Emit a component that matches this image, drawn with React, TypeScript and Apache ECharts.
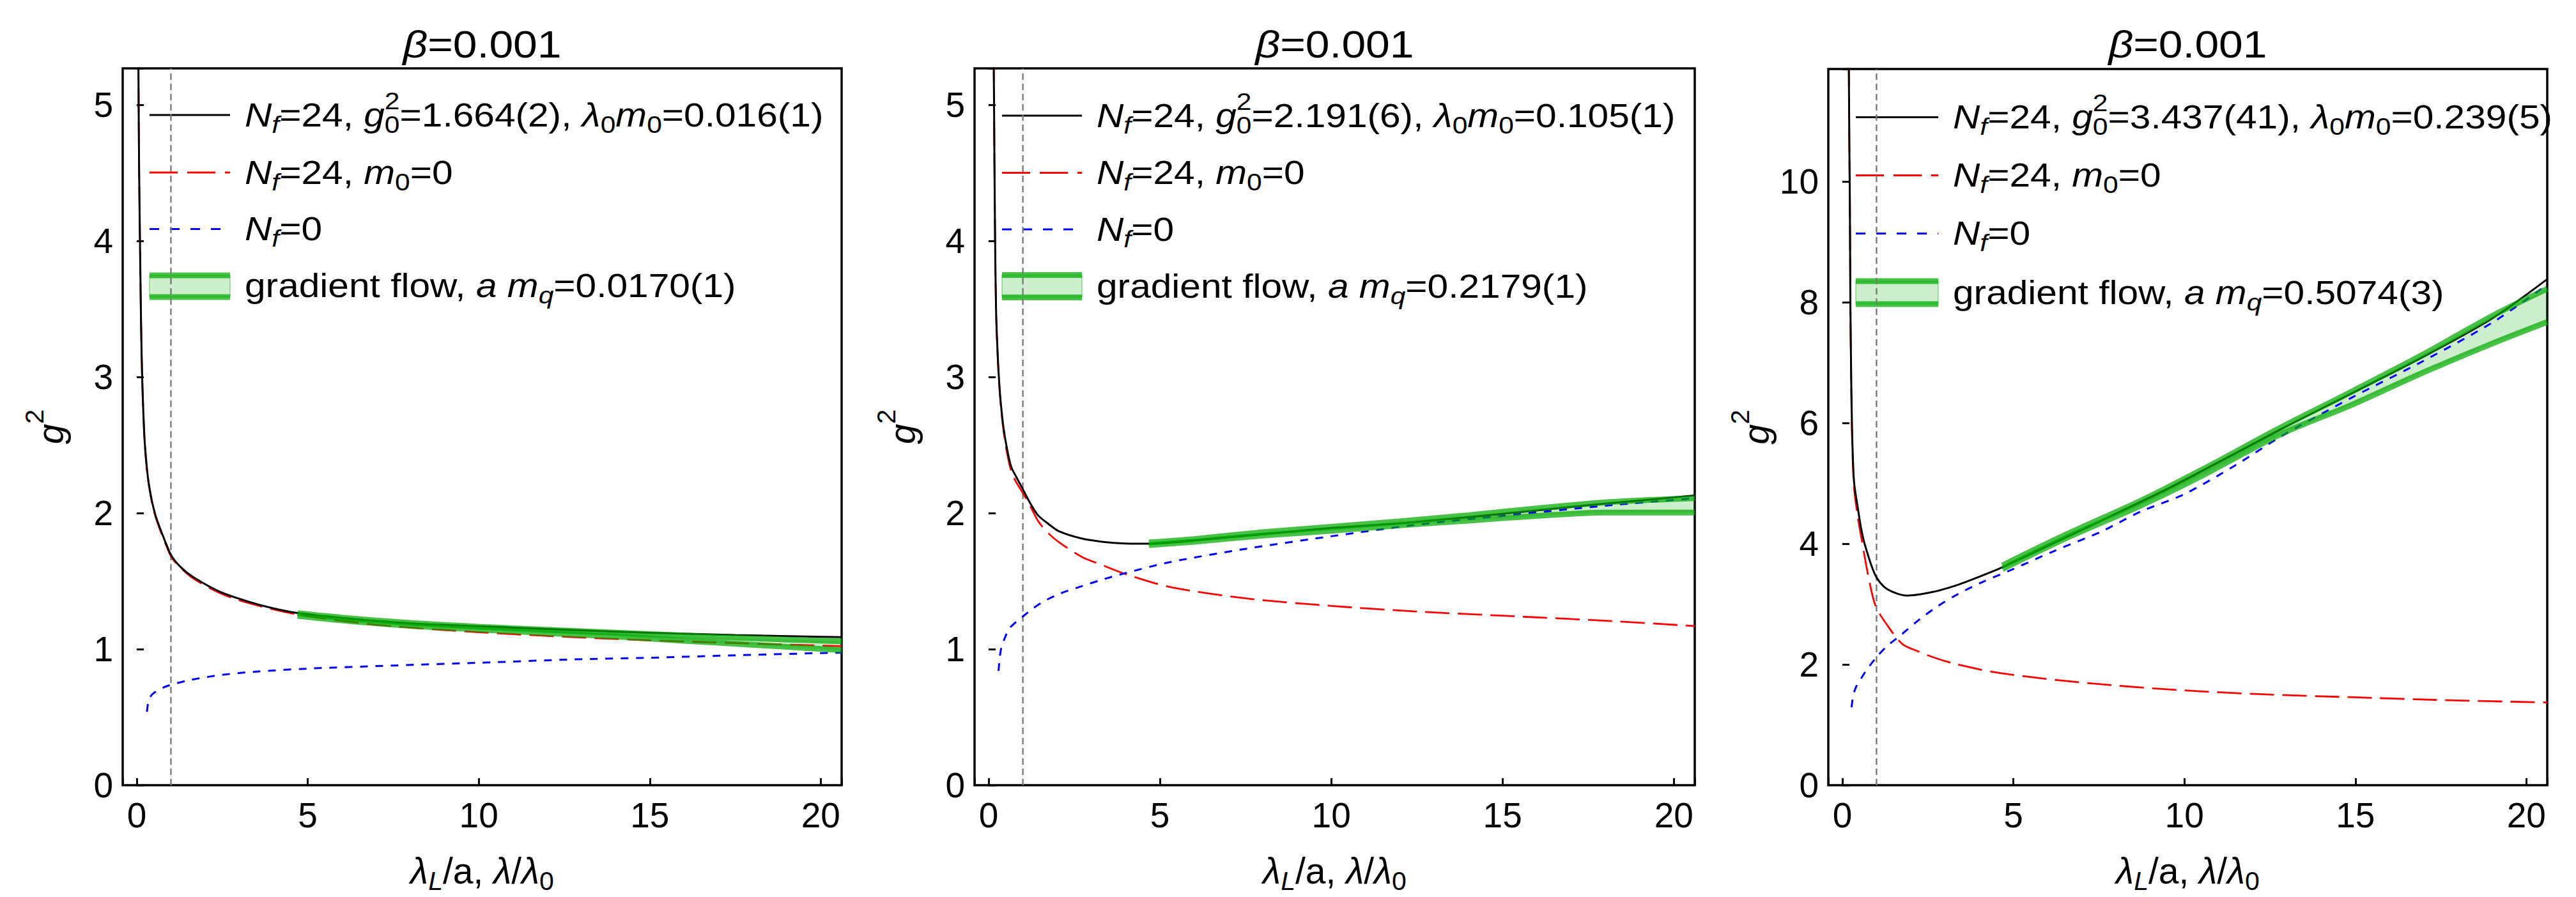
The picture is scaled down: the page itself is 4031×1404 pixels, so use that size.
import React, { useEffect, useRef } from 'react';
import * as echarts from 'echarts';

const FONT = "'Liberation Sans', Arial, Helvetica, sans-serif";

// ---------------- axes & labels ----------------
const xMin = -0.41;
const xMax = 20.61;
const yMaxes = [5.27, 5.27, 11.86];
const xTickStep = 5;
const yTickSteps = [1, 1, 2];
const refLineX = 1; // lambda = lambda_0
const betaValue = '0.001';
const nfValue = 24;
const g0sq = ['1.664(2)', '2.191(6)', '3.437(41)'];
const lambda0m0 = ['0.016(1)', '0.105(1)', '0.239(5)'];
const amq = ['0.0170(1)', '0.2179(1)', '0.5074(3)'];

// ---------------- panel 1 ----------------
const p1Black: [number, number][] = [
  [0.045, 5.6], [0.05, 5.27], [0.07, 4.52], [0.1, 3.9], [0.13, 3.35], [0.16, 2.99], [0.2, 2.7],
  [0.24, 2.5], [0.34, 2.24], [0.53, 2.0], [0.85, 1.78], [1.03, 1.68], [1.3, 1.6], [1.65, 1.53],
  [2.45, 1.42], [3.26, 1.35], [4.0, 1.3], [4.7, 1.266], [6, 1.23], [8, 1.19], [10, 1.168],
  [12.8, 1.14], [15, 1.12], [17.5, 1.104], [20.61, 1.088],
];
const p1Red: [number, number][] = [
  [0.045, 5.6], [0.05, 5.27], [0.07, 4.52], [0.1, 3.9], [0.13, 3.35], [0.16, 2.99], [0.2, 2.7],
  [0.24, 2.49], [0.34, 2.23], [0.53, 1.99], [0.85, 1.77], [1.03, 1.67], [1.3, 1.595], [1.65, 1.52],
  [2.45, 1.41], [3.26, 1.34], [4.7, 1.255], [7, 1.18], [10, 1.125], [12.8, 1.088], [15, 1.065],
  [17.5, 1.045], [20.61, 1.022],
];
const p1Blue: [number, number][] = [
  [0.3, 0.54], [0.33, 0.6], [0.38, 0.64], [0.45, 0.667], [0.6, 0.695], [0.8, 0.72], [1.03, 0.74],
  [1.6, 0.775], [2.45, 0.81], [3.5, 0.835], [5.0, 0.857], [7.5, 0.88], [10, 0.9], [12.8, 0.925],
  [15, 0.937], [17.5, 0.955], [20.61, 0.975],
];
const p1BandX = [4.7, 6, 8, 10, 12, 14, 16, 18, 20.61];
const p1BandUpper = [1.265, 1.232, 1.193, 1.165, 1.143, 1.122, 1.1, 1.08, 1.058];
const p1BandLower = [1.245, 1.212, 1.172, 1.145, 1.118, 1.093, 1.062, 1.032, 0.993];

// ---------------- panel 2 ----------------
const p2Black: [number, number][] = [
  [0.13, 5.6], [0.15, 5.31], [0.17, 4.6], [0.19, 4.01], [0.22, 3.47], [0.26, 3.2], [0.3, 3.0],
  [0.36, 2.8], [0.44, 2.62], [0.54, 2.47], [0.66, 2.34], [0.8, 2.27], [0.99, 2.18], [1.2, 2.08],
  [1.44, 1.985], [1.75, 1.92], [2.06, 1.866], [2.69, 1.815], [3.31, 1.79], [4.0, 1.777],
  [4.67, 1.775], [6, 1.8], [8, 1.845], [10, 1.89], [12, 1.925], [14, 1.97], [16, 2.02], [18, 2.07],
  [20.61, 2.13],
];
const p2Red: [number, number][] = [
  [0.13, 5.6], [0.15, 5.31], [0.17, 4.6], [0.19, 4.0], [0.22, 3.46], [0.26, 3.18], [0.3, 2.98],
  [0.36, 2.78], [0.44, 2.6], [0.54, 2.44], [0.66, 2.31], [0.8, 2.23], [0.97, 2.16], [1.2, 2.06],
  [1.45, 1.94], [1.75, 1.85], [2.09, 1.78], [2.74, 1.676], [3.3, 1.62], [4.02, 1.55], [5.3, 1.457],
  [7.56, 1.372], [10, 1.318], [12.4, 1.278], [15, 1.246], [18, 1.209], [20.61, 1.17],
];
const p2Blue: [number, number][] = [
  [0.29, 0.84], [0.33, 0.95], [0.38, 1.02], [0.45, 1.068], [0.6, 1.15], [0.8, 1.2], [0.98, 1.236],
  [1.3, 1.3], [1.6, 1.35], [2.1, 1.41], [2.74, 1.465], [3.3, 1.51], [4.0, 1.56], [5.3, 1.64],
  [7.56, 1.74], [10, 1.83], [12.5, 1.915], [15, 1.98], [18, 2.055], [20.61, 2.11],
];
const p2BandX = [4.68, 6, 8, 10, 12, 14, 16, 18, 20.61];
const p2BandUpper = [1.785, 1.81, 1.86, 1.9, 1.94, 1.985, 2.035, 2.08, 2.11];
const p2BandLower = [1.765, 1.79, 1.835, 1.87, 1.91, 1.945, 1.98, 2.005, 2.005];

// ---------------- panel 3 ----------------
const p3Black: [number, number][] = [
  [0.18, 12.5], [0.19, 11.9], [0.205, 10.6], [0.22, 9.64], [0.235, 8.0], [0.25, 7.2], [0.28, 6.0],
  [0.34, 5.04], [0.45, 4.6], [0.55, 4.25], [0.67, 3.96], [0.97, 3.47], [1.3, 3.25], [1.9, 3.14],
  [2.65, 3.2], [3.28, 3.3], [3.9, 3.43], [4.68, 3.61], [6, 3.96], [8.72, 4.69], [10, 5.05],
  [12.84, 5.9], [14.9, 6.49], [16.97, 7.09], [19.03, 7.74], [20.61, 8.38],
];
const p3Red: [number, number][] = [
  [0.18, 12.5], [0.19, 11.9], [0.205, 10.6], [0.22, 9.6], [0.235, 8.0], [0.25, 7.15], [0.28, 5.9],
  [0.34, 4.95], [0.45, 4.45], [0.54, 4.15], [0.75, 3.49], [0.97, 2.97], [1.3, 2.66], [1.75, 2.34],
  [2.2, 2.22], [2.75, 2.1], [3.3, 2.01], [4.36, 1.88], [5.96, 1.76], [8, 1.65], [9.97, 1.57],
  [12.5, 1.5], [14.98, 1.455], [17.5, 1.41], [20.61, 1.37],
];
const p3Blue: [number, number][] = [
  [0.27, 1.29], [0.3, 1.42], [0.35, 1.55], [0.42, 1.65], [0.54, 1.76], [0.7, 1.9], [0.97, 2.1],
  [1.3, 2.3], [1.7, 2.48], [2.2, 2.72], [2.75, 2.95], [3.3, 3.14], [4.04, 3.35], [5.0, 3.58],
  [6.2, 3.88], [7.57, 4.2], [8.72, 4.53], [10, 4.82], [11.5, 5.3], [12.84, 5.78], [14.9, 6.42],
  [16.97, 7.02], [19.03, 7.67], [20.61, 8.29],
];
const p3BandX = [4.68, 6.5, 8.72, 10.5, 12.84, 14.9, 16.97, 19.03, 20.61];
const p3BandUpper = [3.64, 4.14, 4.71, 5.22, 5.93, 6.52, 7.13, 7.78, 8.22];
const p3BandLower = [3.58, 4.08, 4.63, 5.12, 5.82, 6.3, 6.83, 7.32, 7.67];

const panels = [
  { black: p1Black, red: p1Red, blue: p1Blue, bandX: p1BandX, bandUp: p1BandUpper, bandLo: p1BandLower },
  { black: p2Black, red: p2Red, blue: p2Blue, bandX: p2BandX, bandUp: p2BandUpper, bandLo: p2BandLower },
  { black: p3Black, red: p3Red, blue: p3Blue, bandX: p3BandX, bandUp: p3BandUpper, bandLo: p3BandLower },
];

// ---------------- layout (pixels) ----------------
const layout = [
  { left: 192, top: 107, width: 1125, height: 1126, legX: 234, legLen: 126, textX: 383, rows: [180, 270, 358.5, 447], band: [431, 465] },
  { left: 1525, top: 107, width: 1127, height: 1126, legX: 1568, legLen: 125, textX: 1716, rows: [181, 270.5, 359, 448], band: [430.5, 465.5] },
  { left: 2861, top: 108, width: 1125, height: 1125, legX: 2904, legLen: 129, textX: 3056, rows: [183.5, 274.5, 365.5, 458], band: [440, 476] },
];

const GREEN_LINE = 'rgba(0,170,0,0.72)';
const GREEN_FILL = 'rgba(0,170,0,0.2)';
const TEXT_SCALE = 1.15;
const LEGEND_SIZE = 51;
const TITLE_SIZE = 59;
const TICK_SIZE = 55;
const NAME_SIZE = 57;

function fmtStep(v: number, step: number) {
  const k = Math.round(v / step);
  return Math.abs(v - k * step) < 1e-6 ? String(k * step) : '';
}

function rich(size: number) {
  const small = Math.round(size * 0.72);
  const base = { fontFamily: FONT, color: '#000', fill: '#000', verticalAlign: 'middle' };
  return {
    r: { ...base, fontSize: size },
    i: { ...base, fontSize: size, fontStyle: 'italic' },
    sub: { ...base, fontSize: small, padding: [Math.round(size * 0.56), 0, 0, 0] },
    isub: { ...base, fontSize: small, fontStyle: 'italic', padding: [Math.round(size * 0.56), 0, 0, 0] },
    sup: { ...base, fontSize: small, padding: [0, 0, Math.round(size * 0.88), 0] },
    sup0: { ...base, fontSize: small, width: 0, padding: [0, 0, Math.round(size * 0.88), 0] },
  };
}

function textEl(x: number, y: number, text: string, size: number, align: string) {
  return {
    type: 'text',
    x,
    y,
    scaleX: TEXT_SCALE,
    silent: true,
    style: {
      text,
      rich: rich(size),
      fontSize: size,
      fontFamily: FONT,
      fill: '#000',
      align,
      verticalAlign: 'middle',
    },
  };
}

function legendElements(p: number) {
  const L = layout[p];
  const x1 = L.legX;
  const x2 = L.legX + L.legLen;
  const els: any[] = [
    { type: 'line', silent: true, shape: { x1, y1: L.rows[0], x2, y2: L.rows[0] }, style: { stroke: '#000', lineWidth: 2.8 } },
    { type: 'line', silent: true, shape: { x1, y1: L.rows[1], x2, y2: L.rows[1] }, style: { stroke: '#ff0000', lineWidth: 2.8, lineDash: [44, 15] } },
    { type: 'line', silent: true, shape: { x1, y1: L.rows[2], x2, y2: L.rows[2] }, style: { stroke: '#0000ff', lineWidth: 3, lineDash: [15, 17] } },
    { type: 'rect', silent: true, shape: { x: x1, y: L.band[0], width: L.legLen, height: L.band[1] - L.band[0] }, style: { fill: GREEN_FILL, stroke: 'rgba(0,170,0,0.3)', lineWidth: 2 } },
    { type: 'line', silent: true, shape: { x1, y1: L.band[0], x2, y2: L.band[0] }, style: { stroke: GREEN_LINE, lineWidth: 9 } },
    { type: 'line', silent: true, shape: { x1, y1: L.band[1], x2, y2: L.band[1] }, style: { stroke: GREEN_LINE, lineWidth: 9 } },
    textEl(L.textX, L.rows[0], `{i|N}{isub|f}=${nfValue}, {i|g}{sup0|2}{sub|0}=${g0sq[p]}, {i|λ}{sub|0}{i|m}{sub|0}=${lambda0m0[p]}`, LEGEND_SIZE, 'left'),
    textEl(L.textX, L.rows[1], `{i|N}{isub|f}=${nfValue}, {i|m}{sub|0}=0`, LEGEND_SIZE, 'left'),
    textEl(L.textX, L.rows[2], `{i|N}{isub|f}=0`, LEGEND_SIZE, 'left'),
    textEl(L.textX, L.rows[3], `gradient flow, {i|a} {i|m}{isub|q}=${amq[p]}`, LEGEND_SIZE, 'left'),
    textEl(L.left + L.width / 2, 69, `{i|β}=${betaValue}`, TITLE_SIZE, 'center'),
  ];
  return els;
}

function lineSeries(i: number, data: [number, number][], color: string, width: number, type: any) {
  return {
    type: 'line',
    xAxisIndex: i,
    yAxisIndex: i,
    data,
    symbol: 'none',
    showSymbol: false,
    smooth: 0.3,
    clip: true,
    silent: true,
    lineStyle: { color, width, type },
  };
}

function buildOption() {
  const grid = layout.map((L) => ({
    left: L.left, top: L.top, width: L.width, height: L.height,
    show: true, borderColor: '#000', borderWidth: 3.5, backgroundColor: 'transparent',
  }));
  const xAxis = layout.map((_, i) => ({
    type: 'value', gridIndex: i, min: xMin, max: xMax, splitNumber: 5,
    axisLine: { show: false }, splitLine: { show: false },
    axisTick: { show: true, inside: true, length: 11, lineStyle: { color: '#000', width: 3 } },
    axisLabel: { show: true, color: '#000', fontFamily: FONT, fontSize: TICK_SIZE, margin: 19, formatter: (v: number) => fmtStep(v, xTickStep) },
    name: '{i|λ}{isub|L}/a, {i|λ}/{i|λ}{sub|0}',
    nameLocation: 'middle', nameGap: 97,
    nameTextStyle: { color: '#000', fontFamily: FONT, fontSize: NAME_SIZE, rich: rich(NAME_SIZE) },
  }));
  const yAxis = layout.map((_, i) => ({
    type: 'value', gridIndex: i, min: 0, max: yMaxes[i], splitNumber: 5,
    axisLine: { show: false }, splitLine: { show: false },
    axisTick: { show: true, inside: true, length: 11, lineStyle: { color: '#000', width: 3 } },
    axisLabel: { show: true, color: '#000', fontFamily: FONT, fontSize: TICK_SIZE, margin: 15, formatter: (v: number) => fmtStep(v, yTickSteps[i]) },
    name: '{i|g}{sup|2}',
    nameLocation: 'middle', nameGap: 68, nameRotate: 90,
    nameTextStyle: { color: '#000', fontFamily: FONT, fontSize: NAME_SIZE, rich: rich(NAME_SIZE) },
  }));

  const series: any[] = [];
  panels.forEach((P, i) => {
    series.push({
      type: 'line', xAxisIndex: i, yAxisIndex: i, silent: true, symbol: 'none', showSymbol: false,
      data: [[refLineX, 0], [refLineX, yMaxes[i]]],
      lineStyle: { color: '#7a7a7a', width: 2.4, type: [10, 6] },
    });
    series.push(lineSeries(i, P.red, '#ff0000', 2.8, [38, 13]));
    series.push(lineSeries(i, P.blue, '#0000ff', 3, [12, 12]));
    series.push(lineSeries(i, P.black, '#000000', 3, 'solid'));
    series.push({
      type: 'custom', xAxisIndex: i, yAxisIndex: i, silent: true,
      data: [[P.bandX[0], P.bandLo[0]]],
      renderItem: (_params: any, api: any) => {
        const pts: number[][] = [];
        P.bandX.forEach((x, k) => pts.push(api.coord([x, P.bandUp[k]])));
        for (let k = P.bandX.length - 1; k >= 0; k--) pts.push(api.coord([P.bandX[k], P.bandLo[k]]));
        return { type: 'polygon', shape: { points: pts }, style: { fill: GREEN_FILL } };
      },
    });
    series.push(lineSeries(i, P.bandX.map((x, k) => [x, P.bandUp[k]] as [number, number]), GREEN_LINE, 9, 'solid'));
    series.push(lineSeries(i, P.bandX.map((x, k) => [x, P.bandLo[k]] as [number, number]), GREEN_LINE, 9, 'solid'));
  });

  const graphic = layout.flatMap((_, p) => legendElements(p));

  return {
    animation: false,
    backgroundColor: '#ffffff',
    grid, xAxis, yAxis, series,
    graphic: { elements: graphic },
  };
}

export default function App() {
  const ref = useRef<HTMLDivElement>(null);
  useEffect(() => {
    if (!ref.current) return;
    const chart = echarts.init(ref.current, null, { renderer: 'svg' });
    chart.setOption(buildOption() as any);
    return () => chart.dispose();
  }, []);
  return (
    <div
      ref={ref}
      style={{ position: 'absolute', left: 0, top: 0, width: 4031, height: 1404, background: '#fff' }}
    />
  );
}
